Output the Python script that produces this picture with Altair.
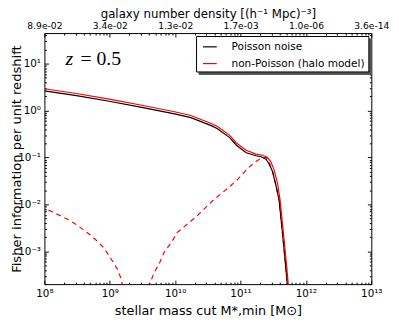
import json
import altair as alt
import pandas as pd

# ---- data -------------------------------------------------------------
series_names = ["Poisson noise", "non-Poisson (halo model)"]
series_colors = ["#000000", "#ff0000"]

mass_poisson = [1.00e8, 3.09e8, 9.77e8, 3.09e9, 9.77e9, 1.74e10, 3.55e10, 4.37e10,
                6.76e10, 8.65e10, 1.22e11, 1.73e11, 2.06e11, 2.45e11, 2.74e11, 3.09e11,
                3.46e11, 3.88e11, 4.37e11, 4.90e11, 5.19e11, 5.37e11]
fisher_poisson = [2.63, 2.09, 1.58, 1.17, 0.851, 0.708, 0.479, 0.417,
                  0.269, 0.183, 0.126, 0.109, 0.104, 0.0925, 0.0726, 0.0501,
                  0.0262, 0.0126, 0.00251, 0.00049, 0.000195, 0.000063]

mass_halo = [1.00e8, 3.09e8, 9.77e8, 3.09e9, 9.77e9, 1.74e10, 3.55e10, 4.37e10,
             6.76e10, 8.65e10, 1.22e11, 1.73e11, 2.18e11, 2.59e11, 2.91e11, 3.27e11,
             3.67e11, 4.02e11, 4.52e11, 5.07e11, 5.37e11, 5.60e11]
fisher_halo = [2.92, 2.32, 1.76, 1.30, 0.944, 0.786, 0.531, 0.463,
               0.300, 0.204, 0.143, 0.118, 0.112, 0.100, 0.081, 0.054,
               0.0284, 0.0126, 0.00251, 0.00049, 0.000195, 0.00006]

# dashed (non-Poisson term), two branches either side of its zero crossing
mass_dash_a = [1.15e8, 1.72e8, 2.30e8, 3.06e8, 3.86e8, 4.88e8, 6.14e8, 7.74e8,
               9.20e8, 1.09e9, 1.30e9, 1.46e9, 1.58e9, 1.70e9]
fisher_dash_a = [0.0076, 0.0058, 0.00479, 0.00375, 0.00294, 0.00231, 0.00175, 0.00127,
                 0.000916, 0.00063, 0.00042, 0.00028, 0.000186, 0.00007]
mass_dash_b = [3.80e9, 4.05e9, 4.79e9, 5.85e9, 6.76e9, 7.64e9, 8.77e9, 1.07e10,
               2.14e10, 3.89e10, 6.46e10, 9.12e10, 1.29e11, 1.74e11, 2.04e11, 2.45e11,
               2.74e11, 3.09e11, 3.46e11, 3.88e11, 4.37e11, 4.90e11, 5.19e11]
fisher_dash_b = [0.00007, 0.000195, 0.000355, 0.00059, 0.00095, 0.0012, 0.00155, 0.00251,
                 0.00562, 0.0126, 0.0224, 0.0347, 0.0589, 0.0832, 0.0955, 0.102,
                 0.080, 0.050, 0.0262, 0.0126, 0.0025, 0.00049, 0.000195]

x_exp_labels = ["10⁸", "10⁹", "10¹⁰", "10¹¹", "10¹²", "10¹³"]
top_labels = ["8.9e-02", "3.4e-02", "1.3e-02", "1.7e-03", "1.0e-06", "3.6e-14"]
y_exp_labels = ["10⁻³", "10⁻²", "10⁻¹", "10⁰", "10¹"]  # exponents -3 .. 1
x_domain = [1e8, 1e13]
y_domain = [2e-4, 45]

ann_z = pd.DataFrame({"mass": [2.1e8], "F": [9.45], "t": ["z"]})
ann_val = pd.DataFrame({"mass": [3.55e8], "F": [9.45], "t": ["= 0.5"]})

# ---- tables -------------------------------------------------------------
solid = pd.DataFrame({
    "mass": mass_poisson + mass_halo,
    "F": fisher_poisson + fisher_halo,
    "series": [series_names[0]] * len(mass_poisson) + [series_names[1]] * len(mass_halo),
})
solid["series2"] = solid["series"]
dashed = pd.DataFrame({
    "mass": mass_dash_a + mass_dash_b,
    "F": fisher_dash_a + fisher_dash_b,
    "seg": ["a"] * len(mass_dash_a) + ["b"] * len(mass_dash_b),
})

# ---- ticks ---------------------------------------------------------------
x_ticks = [k * 10.0 ** n for n in range(8, 13) for k in range(1, 10)] + [1e13]
y_ticks = [k * 10.0 ** n for n in range(-4, 2) for k in range(1, 10)
           if y_domain[0] * 0.999 <= k * 10.0 ** n <= y_domain[1] * 1.001]

EXP = "round(log(datum.value)/LN10)"
IS_MAJOR = f"abs(log(datum.value)/LN10 - {EXP}) < 0.001"

FONT = "DejaVu Sans"
common_tick = dict(
    offset=-4, tickSize=4, tickColor="black", tickWidth=1,
    tickDash={"condition": {"test": IS_MAJOR, "value": [4, 0]}, "value": [2, 2]},
    tickDashOffset=2, domain=False, grid=False,
    labelFont=FONT, labelColor="black", labelFlush=False, labelOverlap=False,
    titleFont=FONT, titleFontWeight="normal", titleColor="black",
)

x_bottom = alt.Axis(
    orient="bottom", values=x_ticks,
    labelExpr=f"{IS_MAJOR} ? {json.dumps(x_exp_labels)}[{EXP}-8] : ''",
    labelFontSize=10.5, labelPadding=5,
    title="stellar mass cut M*,min [M⊙]", titleFontSize=13, titlePadding=5,
    **common_tick)
x_top = alt.Axis(
    orient="top", values=x_ticks,
    labelExpr=f"{IS_MAJOR} ? {json.dumps(top_labels)}[{EXP}-8] : ''",
    labelFontSize=9.3, labelPadding=3,
    title="galaxy number density [(h⁻¹ Mpc)⁻³]", titleFontSize=12, titlePadding=1,
    **common_tick)
y_left = alt.Axis(
    orient="left", values=y_ticks,
    labelExpr=f"{IS_MAJOR} ? {json.dumps(y_exp_labels)}[{EXP}+3] : ''",
    labelFontSize=10.5, labelPadding=4,
    title="Fisher information per unit redshift", titleFontSize=13.3,
    titleX=-32, titleBaseline="middle",
    **common_tick)
y_right = alt.Axis(orient="right", values=y_ticks, labels=False, title=None, **common_tick)

xs = alt.Scale(type="log", domain=x_domain)
ys = alt.Scale(type="log", domain=y_domain)

legend_common = dict(
    orient="none", title=None, padding=3, symbolType="stroke", symbolSize=196,
    symbolStrokeWidth=1.2, rowPadding=4, labelFont=FONT, labelFontSize=10.7,
    cornerRadius=0,
)

dash_layer = alt.Chart(dashed).mark_line(
    clip=True, color="#ff0000", strokeWidth=1.2, strokeDash=[5, 4]
).encode(
    x=alt.X("mass:Q", scale=xs, axis=None),
    y=alt.Y("F:Q", scale=ys, axis=None),
    detail="seg:N",
)

solid_layer = alt.Chart(solid).mark_line(clip=True, strokeWidth=1.2).encode(
    x=alt.X("mass:Q", scale=xs, axis=x_bottom),
    y=alt.Y("F:Q", scale=ys, axis=y_left),
    color=alt.Color("series:N", scale=alt.Scale(domain=series_names, range=series_colors),
                    legend=alt.Legend(legendX=154, legendY=3, strokeColor="black",
                                      fillColor="white", labelColor="black", zindex=2,
                                      symbolOffset=3, labelOffset=14,
                                      **legend_common)),
)

# grey drop shadow behind the legend box (label-less legend of the same size)
shadow_layer = alt.Chart(solid).mark_line(clip=True, opacity=0).encode(
    x=alt.X("mass:Q", scale=xs, axis=x_top),
    y=alt.Y("F:Q", scale=ys, axis=y_right),
    strokeDash=alt.StrokeDash("series2:N",
                              scale=alt.Scale(domain=series_names, range=[[1, 0], [1, 0]]),
                              legend=alt.Legend(legendX=156.5, legendY=5.5, strokeColor="#555555",
                                                fillColor="#555555", labelExpr="''",
                                                symbolStrokeColor="#555555", zindex=1,
                                                symbolOffset=139, labelOffset=14,
                                                **legend_common)),
)

text_z = alt.Chart(ann_z).mark_text(
    font="Liberation Serif", fontSize=20, fontStyle="italic", align="left",
    baseline="alphabetic", color="black"
).encode(
    x=alt.X("mass:Q", scale=xs, axis=None),
    y=alt.Y("F:Q", scale=ys, axis=None),
    text="t:N",
)
text_val = alt.Chart(ann_val).mark_text(
    font="Liberation Serif", fontSize=20, align="left", baseline="alphabetic", color="black"
).encode(
    x=alt.X("mass:Q", scale=xs, axis=None),
    y=alt.Y("F:Q", scale=ys, axis=None),
    text="t:N",
)

chart = alt.layer(dash_layer, solid_layer, shadow_layer, text_z, text_val).resolve_axis(
    x="independent", y="independent"
).resolve_legend(
    color="independent", strokeDash="independent"
).properties(
    width=332, height=255,
    autosize=alt.AutoSizeParams(type="none"),
    padding={"left": 37, "top": 23, "right": 20, "bottom": 35},
).configure(font=FONT).configure_view(stroke="black", strokeWidth=1)

chart.save("out.html", embed_options={"renderer": "svg", "actions": False})
